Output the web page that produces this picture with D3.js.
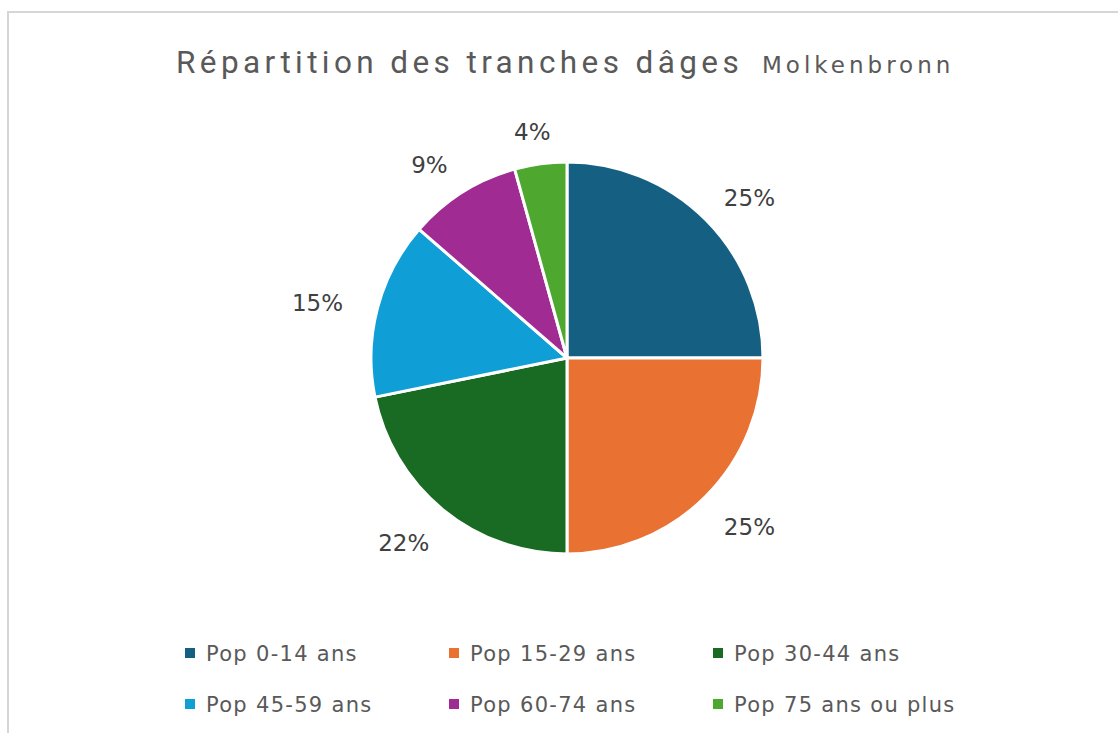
<!DOCTYPE html>
<html>
<head>
<meta charset="utf-8">
<script src="https://cdn.jsdelivr.net/npm/d3@7"></script>
<style>
  body { margin: 0; background: #fff; }
  svg { display: block; }
</style>
</head>
<body>
<script>
// tranches d'âge, parts en %
var categories = ["Pop 0-14 ans", "Pop 15-29 ans", "Pop 30-44 ans",
                  "Pop 45-59 ans", "Pop 60-74 ans", "Pop 75 ans ou plus"];
var values = [25.0, 25.0, 21.8, 14.6, 9.3, 4.3];
var colors = ["#156082", "#E97132", "#196B24", "#0F9ED5", "#A02B93", "#4EA72E"];
var titleMain = "Répartition des tranches dâges";
var titleSub = "Molkenbronn";

var width = 1118,
    height = 733,
    cx = 567,
    cy = 358,
    radius = 196;

var svg = d3.select("body").append("svg")
    .attr("width", width)
    .attr("height", height);

// cadre du graphique
svg.append("rect")
    .attr("x", 8).attr("y", 12)
    .attr("width", 1120).attr("height", 740)
    .attr("fill", "#fff")
    .attr("stroke", "#d6d6d6")
    .attr("stroke-width", 2);

// titre
var title = svg.append("text")
    .attr("x", 176)
    .attr("y", 73)
    .style("font-family", "Roboto, 'Liberation Sans', sans-serif")
    .style("fill", "#595959");
title.append("tspan")
    .style("font-size", "31.5px")
    .style("letter-spacing", "4.4px")
    .text(titleMain);
title.append("tspan")
    .attr("x", 762)
    .style("font-family", "'DejaVu Sans', sans-serif")
    .style("font-size", "23px")
    .style("letter-spacing", "4px")
    .text(titleSub);

var color = d3.scaleOrdinal()
    .domain(categories)
    .range(colors);

var pie = d3.pie()
    .sort(null)
    .value(function(d) { return d.value; });

var arc = d3.arc()
    .outerRadius(radius)
    .innerRadius(0);

var data = categories.map(function(c, i) { return { name: c, value: values[i] }; });
var total = d3.sum(values);

var g = svg.append("g")
    .attr("transform", "translate(" + cx + "," + cy + ")");

var slices = g.selectAll(".arc")
    .data(pie(data))
  .enter().append("g")
    .attr("class", "arc");

slices.append("path")
    .attr("d", arc)
    .style("fill", function(d) { return color(d.data.name); })
    .style("stroke", "#fff")
    .style("stroke-width", 3)
    .style("stroke-linejoin", "round");

// étiquettes à l'extérieur (boîte collée au bord du disque)
var labelR = radius + 28,
    halfW = 34,
    halfH = 9;
slices.append("text")
    .attr("text-anchor", "middle")
    .attr("dy", "0.54em")
    .style("font-family", "'DejaVu Sans', sans-serif")
    .style("font-size", "23px")
    .style("fill", "#404040")
    .attr("transform", function(d) {
      var a = (d.startAngle + d.endAngle) / 2;
      var s = Math.sin(a), c = Math.cos(a);
      return "translate(" + ((labelR + halfW) * s) + "," + (-(labelR + halfH) * c) + ")";
    })
    .text(function(d) { return d3.format(".0f")(d.data.value / total * 100) + "%"; });

// légende
var colX = d3.scalePoint().domain([0, 1, 2]).range([185, 713]);
var rowY = d3.scalePoint().domain([0, 1]).range([653, 704]);

var legend = svg.selectAll(".legend")
    .data(categories)
  .enter().append("g")
    .attr("class", "legend")
    .attr("transform", function(d, i) {
      return "translate(" + colX(i % 3) + "," + rowY(Math.floor(i / 3)) + ")";
    });

legend.append("rect")
    .attr("x", 0).attr("y", -5)
    .attr("width", 10).attr("height", 10)
    .style("fill", function(d) { return color(d); });

legend.append("text")
    .attr("x", 21)
    .attr("dy", "0.36em")
    .style("font-family", "'DejaVu Sans', sans-serif")
    .style("font-size", "21px")
    .style("letter-spacing", "1.3px")
    .style("fill", "#595959")
    .text(function(d) { return d; });
</script>
</body>
</html>
